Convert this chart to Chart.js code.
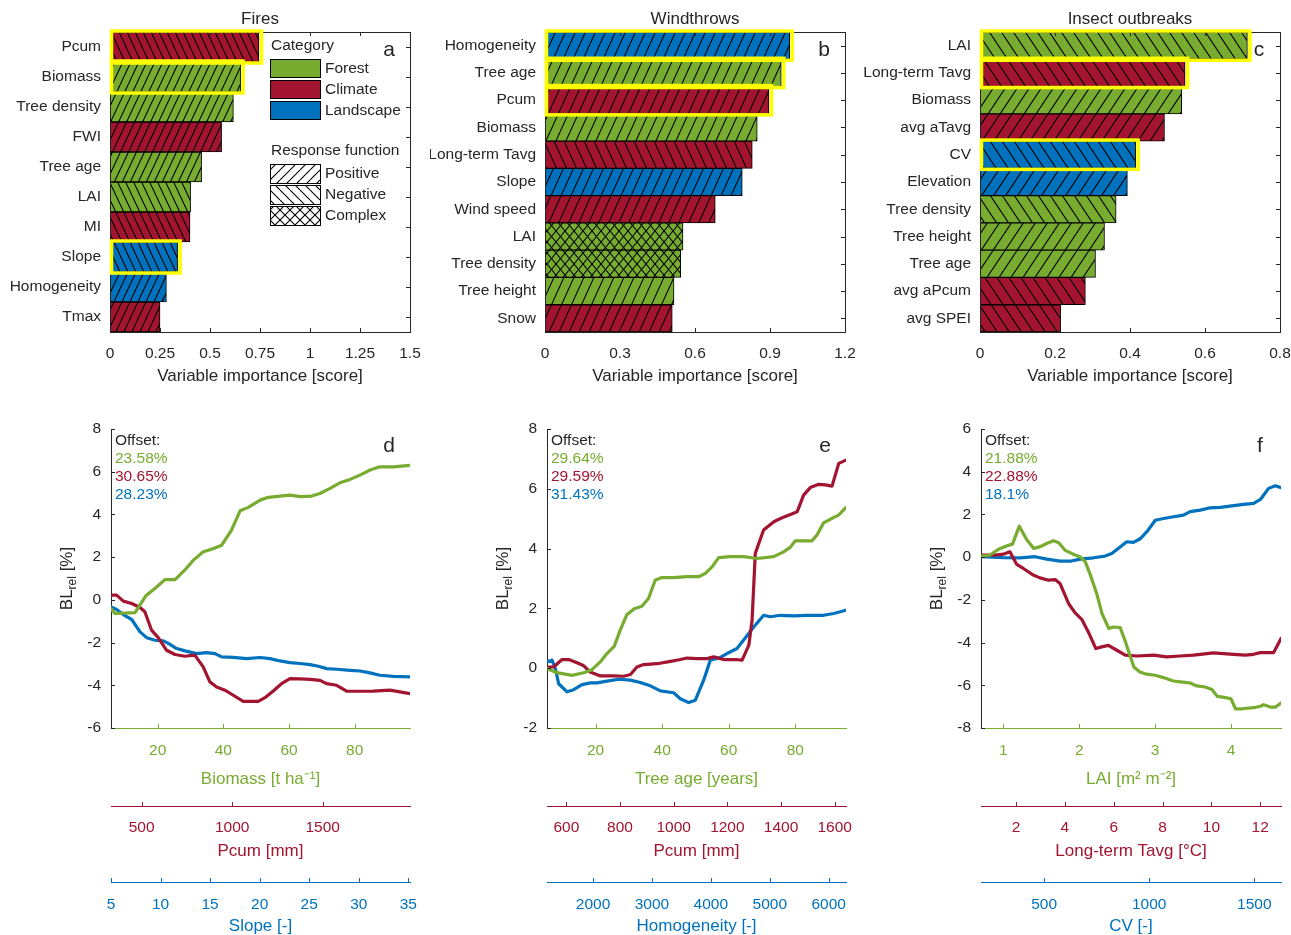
<!DOCTYPE html>
<html>
<head>
<meta charset="utf-8">
<title>Fires, windthrows and insect outbreaks</title>
<script src="https://cdn.jsdelivr.net/npm/chart.js@4.4.0/dist/chart.umd.min.js"></script>
<style>
  html, body { margin: 0; background: #fff; }
  #fig { position: relative; width: 1291px; height: 935px; overflow: hidden; background: #fff; }
  #fig canvas { position: absolute; }
</style>
</head>
<body>
<div id="fig">
  <canvas id="pa" width="430" height="390" style="left:0;top:0"></canvas>
  <canvas id="pb" width="430" height="390" style="left:430px;top:0"></canvas>
  <canvas id="pc" width="431" height="390" style="left:860px;top:0"></canvas>
  <canvas id="pd" width="430" height="540" style="left:0;top:400px"></canvas>
  <canvas id="pe" width="430" height="540" style="left:430px;top:400px"></canvas>
  <canvas id="pf" width="431" height="540" style="left:860px;top:400px"></canvas>
</div>
<script>
const INK = '#262626';
const GREEN = '#77AC30';
const RED = '#A2142F';
const BLUE = '#0072BD';
const FONT = "'Liberation Sans', Arial, Helvetica, sans-serif";
const TICK_SIZE = 15.5;
const TITLE_SIZE = 17;

// ---- variable importance (top row) ----
// groups: F forest, C climate, L landscape; shapes: p positive, n negative, x complex
const fireVars = ['Pcum', 'Biomass', 'Tree density', 'FWI', 'Tree age', 'LAI', 'MI', 'Slope', 'Homogeneity', 'Tmax'];
const fireScores = [0.745, 0.653, 0.617, 0.558, 0.458, 0.403, 0.40, 0.338, 0.282, 0.25];
const fireGroups = ['C', 'F', 'F', 'C', 'F', 'F', 'C', 'L', 'L', 'C'];
const fireShapes = ['n', 'p', 'p', 'p', 'p', 'n', 'n', 'n', 'p', 'p'];
const fireSelected = [1, 1, 0, 0, 0, 0, 0, 1, 0, 0];

const windVars = ['Homogeneity', 'Tree age', 'Pcum', 'Biomass', 'Long-term Tavg', 'Slope', 'Wind speed', 'LAI', 'Tree density', 'Tree height', 'Snow'];
const windScores = [0.979, 0.945, 0.896, 0.849, 0.829, 0.789, 0.681, 0.552, 0.543, 0.516, 0.509];
const windGroups = ['L', 'F', 'C', 'F', 'C', 'L', 'C', 'F', 'F', 'F', 'C'];
const windShapes = ['p', 'p', 'p', 'p', 'n', 'p', 'p', 'x', 'x', 'p', 'p'];
const windSelected = [1, 1, 1, 0, 0, 0, 0, 0, 0, 0, 0];

const insectVars = ['LAI', 'Long-term Tavg', 'Biomass', 'avg aTavg', 'CV', 'Elevation', 'Tree density', 'Tree height', 'Tree age', 'avg aPcum', 'avg SPEI'];
const insectScores = [0.713, 0.547, 0.538, 0.492, 0.415, 0.393, 0.363, 0.332, 0.308, 0.281, 0.215];
const insectGroups = ['F', 'C', 'F', 'C', 'L', 'L', 'F', 'F', 'F', 'C', 'C'];
const insectShapes = ['n', 'n', 'p', 'p', 'n', 'p', 'n', 'p', 'p', 'n', 'n'];
const insectSelected = [1, 1, 0, 0, 1, 0, 0, 0, 0, 0, 0];

const legendGroups = ['Forest', 'Climate', 'Landscape'];
const legendShapes = ['Positive', 'Negative', 'Complex'];

// ---- response functions (bottom row) ----
const fireOffsets = ['23.58%', '30.65%', '28.23%'];
const fireBiomassTicks = [20, 40, 60, 80];
const fireBiomassX = [5.8, 7, 13.1, 16.4, 19.7, 22.2, 25.3, 28.3, 30.9, 33.9, 37, 39.5, 42.5, 45.1, 47.6, 51.2, 53.7, 57.3, 60.3, 63.4, 66.9, 69.4, 72.5, 75.5, 78.6, 81.6, 84.7, 87.7, 91.8, 96.8];
const fireBiomassY = [-0.41, -0.64, -0.6, 0.19, 0.6, 0.95, 0.95, 1.4, 1.86, 2.25, 2.4, 2.56, 3.27, 4.17, 4.33, 4.67, 4.8, 4.86, 4.9, 4.83, 4.86, 4.98, 5.22, 5.48, 5.64, 5.84, 6.08, 6.23, 6.23, 6.3];
const firePcumTicks = [500, 1000, 1500];
const firePcumX = [331, 362, 399, 445, 491, 518, 555, 592, 638, 684, 739, 794, 840, 877, 914, 960, 997, 1061, 1144, 1181, 1227, 1273, 1319, 1374, 1430, 1485, 1521, 1577, 1632, 1706, 1779, 1871, 1982];
const firePcumY = [0.22, 0.22, -0.06, -0.17, -0.36, -0.56, -1.42, -1.77, -2.36, -2.56, -2.64, -2.59, -3.14, -3.84, -4.08, -4.23, -4.42, -4.75, -4.75, -4.58, -4.27, -3.92, -3.69, -3.7, -3.72, -3.77, -3.92, -4.0, -4.27, -4.28, -4.27, -4.23, -4.39];
const fireSlopeTicks = [5, 10, 15, 20, 25, 30, 35];
const fireSlopeX = [5, 5.57, 6.24, 7.09, 7.93, 8.6, 9.44, 10.28, 10.95, 11.63, 12.47, 13.64, 14.65, 15.49, 16.17, 17.34, 18.69, 20.04, 21.04, 22.05, 23.06, 24.07, 25.08, 25.92, 26.76, 27.77, 29.12, 30.13, 31.13, 32.14, 33.49, 35.17];
const fireSlopeY = [-0.33, -0.45, -0.69, -0.92, -1.5, -1.77, -1.89, -1.92, -2.08, -2.28, -2.39, -2.52, -2.47, -2.52, -2.67, -2.69, -2.75, -2.7, -2.75, -2.86, -2.94, -2.98, -3.03, -3.11, -3.22, -3.25, -3.3, -3.33, -3.42, -3.53, -3.58, -3.61];

const windOffsets = ['29.64%', '29.59%', '31.43%'];
const windAgeTicks = [20, 40, 60, 80];
const windAgeX = [5.4, 8.4, 12.9, 16.4, 18.9, 21.4, 23.4, 25.6, 27.4, 29.4, 31.6, 33.9, 35.9, 37.9, 39.9, 43.4, 47.5, 51, 53, 55, 57, 60.4, 64.5, 68.5, 73.5, 76.5, 78.5, 80, 83.5, 85, 86.5, 88.5, 90.5, 93, 95.2];
const windAgeY = [-0.01, -0.15, -0.24, -0.15, -0.05, 0.21, 0.49, 0.73, 1.27, 1.79, 1.99, 2.07, 2.33, 2.94, 3.03, 3.03, 3.06, 3.06, 3.17, 3.39, 3.7, 3.73, 3.73, 3.67, 3.73, 3.89, 4.04, 4.26, 4.26, 4.26, 4.45, 4.86, 4.98, 5.12, 5.37];
const windPcumTicks = [600, 800, 1000, 1200, 1400, 1600];
const windPcumX = [528, 553, 584, 609, 640, 665, 689, 727, 776, 814, 839, 863, 888, 938, 988, 1025, 1050, 1087, 1124, 1149, 1186, 1230, 1255, 1280, 1292, 1304, 1317, 1335, 1373, 1404, 1435, 1460, 1484, 1509, 1540, 1565, 1590, 1615, 1642];
const windPcumY = [0.04, 0.04, 0.29, 0.29, 0.18, 0.08, -0.13, -0.26, -0.26, -0.27, -0.21, 0.04, 0.12, 0.15, 0.23, 0.29, 0.34, 0.32, 0.32, 0.38, 0.29, 0.29, 0.27, 0.77, 1.6, 3.84, 4.17, 4.62, 4.9, 5.03, 5.14, 5.23, 5.79, 6.04, 6.15, 6.13, 6.09, 6.85, 6.96];
const windHomogTicks = [2000, 3000, 4000, 5000, 6000];
const windHomogX = [1219, 1304, 1361, 1417, 1559, 1672, 1813, 1955, 2068, 2238, 2436, 2634, 2803, 2973, 3143, 3369, 3482, 3624, 3737, 3878, 3991, 4161, 4274, 4444, 4557, 4727, 4897, 5010, 5180, 5406, 5632, 5915, 6085, 6294];
const windHomogY = [0.21, 0.27, -0.01, -0.52, -0.79, -0.72, -0.55, -0.49, -0.49, -0.43, -0.37, -0.4, -0.48, -0.59, -0.76, -0.82, -1.02, -1.15, -1.07, -0.4, 0.27, 0.36, 0.49, 0.66, 0.94, 1.38, 1.77, 1.72, 1.77, 1.75, 1.77, 1.77, 1.83, 1.94];

const insectOffsets = ['21.88%', '22.88%', '18.1%'];
const insectLaiTicks = [1, 2, 3, 4];
const insectLaiX = [0.705, 0.82, 0.93, 1.04, 1.12, 1.21, 1.31, 1.4, 1.48, 1.57, 1.66, 1.73, 1.81, 1.92, 2.01, 2.08, 2.14, 2.23, 2.3, 2.39, 2.45, 2.54, 2.61, 2.72, 2.8, 2.89, 3.0, 3.11, 3.24, 3.33, 3.46, 3.55, 3.66, 3.75, 3.82, 3.93, 4.0, 4.06, 4.15, 4.3, 4.39, 4.43, 4.52, 4.59, 4.66];
const insectLaiY = [0.05, 0.09, 0.36, 0.52, 0.61, 1.45, 0.8, 0.41, 0.48, 0.64, 0.77, 0.67, 0.33, 0.14, 0.02, -0.22, -0.77, -1.7, -2.64, -3.34, -3.27, -3.3, -3.97, -5.14, -5.38, -5.48, -5.53, -5.64, -5.8, -5.84, -5.89, -6.03, -6.08, -6.2, -6.52, -6.58, -6.63, -7.1, -7.1, -7.05, -6.98, -6.91, -7.02, -7.02, -6.83];
const insectTavgTicks = [2, 4, 6, 8, 10, 12];
const insectTavgX = [0.566, 1.07, 1.48, 1.75, 2.03, 2.3, 2.71, 2.98, 3.33, 3.6, 3.8, 4.15, 4.42, 4.69, 4.96, 5.27, 5.51, 5.78, 6.13, 6.47, 6.95, 7.63, 8.17, 8.72, 9.27, 10.09, 10.91, 11.38, 11.73, 12.0, 12.55, 12.85];
const insectTavgY = [0.09, 0.09, 0.14, 0.25, -0.34, -0.53, -0.84, -0.97, -1.08, -1.05, -1.23, -2.17, -2.61, -2.91, -3.5, -4.28, -4.2, -4.13, -4.36, -4.59, -4.63, -4.59, -4.67, -4.63, -4.59, -4.48, -4.55, -4.59, -4.55, -4.47, -4.47, -3.81];
const insectCvTicks = [500, 1000, 1500];
const insectCvX = [200, 306, 386, 457, 513, 576, 624, 671, 735, 790, 822, 862, 893, 925, 957, 989, 1029, 1068, 1116, 1163, 1195, 1243, 1290, 1338, 1402, 1449, 1497, 1529, 1568, 1600, 1627];
const insectCvY = [0.02, -0.02, -0.03, 0.02, -0.09, -0.19, -0.19, -0.09, -0.03, 0.05, 0.17, 0.48, 0.72, 0.69, 0.86, 1.19, 1.73, 1.81, 1.89, 1.97, 2.13, 2.2, 2.31, 2.33, 2.41, 2.47, 2.52, 2.7, 3.22, 3.34, 3.25];

const GROUP_COLORS = { F: GREEN, C: RED, L: BLUE };
const fmt = v => String(+Number(v).toFixed(3));

function hatchPattern(ctx, fill, shape, s, h) {
  const tile = document.createElement('canvas');
  tile.width = s;
  tile.height = h;
  const g = tile.getContext('2d');
  g.fillStyle = fill;
  g.fillRect(0, 0, s, h);
  g.strokeStyle = '#000';
  g.lineWidth = 1.1;
  const line = (x0, y0, x1, y1) => { g.beginPath(); g.moveTo(x0, y0); g.lineTo(x1, y1); g.stroke(); };
  for (const dx of [-s, 0, s]) {
    if (shape !== 'n') line(dx, h, dx + s, 0);
    if (shape !== 'p') line(dx, 0, dx + s, h);
  }
  return ctx.createPattern(tile, 'repeat');
}

function seg(ctx, x0, y0, x1, y1) {
  ctx.beginPath(); ctx.moveTo(x0, y0); ctx.lineTo(x1, y1); ctx.stroke();
}

// keep the plot box where it is: labels may hang over the canvas padding
function noLabelPadding(s) {
  s.paddingLeft = 0;
  s.paddingRight = 0;
  s.paddingTop = 0;
  s.paddingBottom = 0;
}

// box, inward ticks and yellow outlines of the selected bars
const importanceFrame = {
  id: 'importanceFrame',
  afterDatasetsDraw(chart, args, o) {
    const { ctx, chartArea: a, scales: { x, y } } = chart;
    ctx.save();
    ctx.strokeStyle = INK;
    ctx.lineWidth = 1;
    ctx.strokeRect(Math.round(a.left) + 0.5, Math.round(a.top) + 0.5, Math.round(a.width), Math.round(a.height));
    x.ticks.forEach((t, i) => {
      const px = Math.round(x.getPixelForTick(i)) + 0.5;
      seg(ctx, px, a.top, px, a.top + 4);
      seg(ctx, px, a.bottom, px, a.bottom - 4);
    });
    y.ticks.forEach((t, i) => {
      const py = Math.round(y.getPixelForTick(i)) + 0.5;
      seg(ctx, a.right, py, a.right - 4, py);
    });
    const meta = chart.getDatasetMeta(0);
    ctx.strokeStyle = '#FFFF00';
    ctx.lineWidth = 3.5;
    o.selected.forEach((on, i) => {
      if (!on) return;
      const b = meta.data[i].getProps(['x', 'y', 'base', 'height'], true);
      const top = b.y - b.height / 2;
      ctx.strokeRect(b.base + 1.5, top - 1, b.x - b.base + 1, b.height + 2);
    });
    ctx.restore();
  },
  afterDraw(chart, args, o) {
    const { ctx, chartArea: a } = chart;
    ctx.save();
    ctx.fillStyle = INK;
    ctx.textBaseline = 'middle';
    ctx.textAlign = 'center';
    ctx.font = `${TITLE_SIZE}px ${FONT}`;
    ctx.fillText(o.title, (a.left + a.right) / 2, a.top - 13);
    ctx.font = `21px ${FONT}`;
    ctx.fillText(o.letter, a.right - 21, a.top + 18);
    if (o.legend) {
      const lx = a.left + 160;
      ctx.textAlign = 'left';
      ctx.font = `${TICK_SIZE}px ${FONT}`;
      ctx.lineWidth = 1;
      ctx.strokeStyle = '#000';
      ctx.fillText('Category', lx + 1, a.top + 14);
      legendGroups.forEach((name, i) => {
        const ty = a.top + 27 + i * 21;
        ctx.fillStyle = [GREEN, RED, BLUE][i];
        ctx.fillRect(lx, ty, 50, 18);
        ctx.strokeRect(lx + 0.5, ty + 0.5, 50, 18);
        ctx.fillStyle = INK;
        ctx.fillText(name, lx + 55, ty + 10);
      });
      ctx.fillText('Response function', lx + 1, a.top + 119);
      legendShapes.forEach((name, i) => {
        const ty = a.top + 132 + i * 21;
        ctx.fillStyle = hatchPattern(ctx, '#fff', ['p', 'n', 'x'][i], 10, 10);
        ctx.fillRect(lx, ty, 50, 19);
        ctx.strokeRect(lx + 0.5, ty + 0.5, 50, 19);
        ctx.fillStyle = INK;
        ctx.fillText(name, lx + 55, ty + 10);
      });
    }
    ctx.restore();
  }
};

function drawImportance(id, cfg) {
  const canvas = document.getElementById(id);
  const ctx = canvas.getContext('2d');
  const fills = cfg.names.map((n, i) => {
    const hs = cfg.shapes[i] === 'x' ? cfg.cross : cfg.hatch;
    return hatchPattern(ctx, GROUP_COLORS[cfg.groups[i]], cfg.shapes[i], hs[0], hs[1]);
  });
  const font = { family: FONT, size: TICK_SIZE };
  const titleFont = { family: FONT, size: TITLE_SIZE };
  return new Chart(canvas, {
    type: 'bar',
    data: {
      labels: cfg.names,
      datasets: [{
        data: cfg.scores,
        backgroundColor: fills,
        borderColor: '#000',
        borderWidth: 1,
        borderSkipped: false,
        categoryPercentage: 1,
        barPercentage: 1
      }]
    },
    options: {
      indexAxis: 'y',
      responsive: false,
      animation: false,
      layout: { padding: { top: 32, right: cfg.padRight, left: 0, bottom: 0 } },
      plugins: {
        legend: { display: false },
        tooltip: { enabled: false },
        importanceFrame: { selected: cfg.selected, title: cfg.title, letter: cfg.letter, legend: cfg.legend }
      },
      scales: {
        x: {
          type: 'linear',
          min: 0,
          max: cfg.xMax,
          grid: { display: false, drawTicks: false },
          border: { display: false },
          ticks: { stepSize: cfg.xStep, color: INK, font, padding: 12, maxRotation: 0, autoSkip: false, callback: fmt },
          title: { display: true, text: 'Variable importance [score]', color: INK, font: titleFont, padding: { top: 0, bottom: 3 } },
          afterFit: s => { s.height = 58; noLabelPadding(s); }
        },
        y: {
          grid: { display: false, drawTicks: false },
          border: { display: false },
          ticks: { color: INK, font, padding: 9, autoSkip: false },
          afterFit: s => { s.width = cfg.yWidth; noLabelPadding(s); }
        }
      }
    },
    plugins: [importanceFrame]
  });
}

// inward ticks, y title, offsets and panel letter
const responseDecor = {
  id: 'responseDecor',
  afterDraw(chart, args, o) {
    const { ctx, chartArea: a } = chart;
    ctx.save();
    ctx.lineWidth = 1;
    ['xg', 'xr', 'xb'].forEach(sid => {
      const s = chart.scales[sid];
      ctx.strokeStyle = s.options.border.color;
      s.ticks.forEach((t, i) => {
        const px = Math.round(s.getPixelForTick(i)) + 0.5;
        seg(ctx, px, s.top + 1, px, s.top - 4);
      });
    });
    const y = chart.scales.y;
    ctx.strokeStyle = INK;
    y.ticks.forEach((t, i) => {
      const py = Math.round(y.getPixelForTick(i)) + 0.5;
      seg(ctx, a.left, py, a.left + 4, py);
    });

    // BL_rel [%]
    ctx.fillStyle = INK;
    ctx.textBaseline = 'alphabetic';
    ctx.textAlign = 'left';
    ctx.translate(a.left - 45, (a.top + a.bottom) / 2);
    ctx.rotate(-Math.PI / 2);
    ctx.font = `${TITLE_SIZE}px ${FONT}`;
    const w1 = ctx.measureText('BL').width;
    const w3 = ctx.measureText(' [%]').width;
    ctx.font = `12px ${FONT}`;
    const w2 = ctx.measureText('rel').width;
    const tx = -(w1 + w2 + w3) / 2;
    ctx.font = `${TITLE_SIZE}px ${FONT}`;
    ctx.fillText('BL', tx, 6);
    ctx.font = `12px ${FONT}`;
    ctx.fillText('rel', tx + w1, 10);
    ctx.font = `${TITLE_SIZE}px ${FONT}`;
    ctx.fillText(' [%]', tx + w1 + w2, 6);
    ctx.setTransform(1, 0, 0, 1, 0, 0);

    ctx.textBaseline = 'middle';
    ctx.font = `${TICK_SIZE}px ${FONT}`;
    ctx.fillText('Offset:', a.left + 4, a.top + 12);
    [GREEN, RED, BLUE].forEach((c, i) => {
      ctx.fillStyle = c;
      ctx.fillText(o.offsets[i], a.left + 4, a.top + 30 + i * 18);
    });
    ctx.fillStyle = INK;
    ctx.textAlign = 'center';
    ctx.font = `21px ${FONT}`;
    ctx.fillText(o.letter, a.right - 21, a.top + 17);
    ctx.restore();
  }
};

function xAxis(ax, color, weight, height, titlePad, tickPad) {
  const font = { family: FONT, size: TICK_SIZE };
  const titleFont = { family: FONT, size: TITLE_SIZE };
  return {
    type: 'linear',
    position: 'bottom',
    weight,
    min: ax.min,
    max: ax.max,
    grid: { display: false, drawTicks: false },
    border: { display: true, color, width: 1 },
    ticks: { color, font, padding: tickPad, maxRotation: 0, autoSkip: false, callback: fmt },
    afterBuildTicks: s => { s.ticks = ax.ticks.map(value => ({ value })); },
    title: { display: true, text: ax.title, color, font: titleFont, padding: { top: 0, bottom: titlePad } },
    afterFit: s => { s.height = height; noLabelPadding(s); }
  };
}

function drawResponse(id, cfg) {
  const canvas = document.getElementById(id);
  const pts = (xs, ys) => xs.map((x, i) => ({ x, y: ys[i] }));
  const line = (xs, ys, color, axisId) => ({
    data: pts(xs, ys),
    xAxisID: axisId,
    borderColor: color,
    borderWidth: 3.2,
    pointRadius: 0,
    tension: 0,
    borderJoinStyle: 'round',
    borderCapStyle: 'round',
    fill: false
  });
  const font = { family: FONT, size: TICK_SIZE };
  return new Chart(canvas, {
    type: 'line',
    data: {
      datasets: [
        line(cfg.g.xs, cfg.g.ys, GREEN, 'xg'),
        line(cfg.r.xs, cfg.r.ys, RED, 'xr'),
        line(cfg.b.xs, cfg.b.ys, BLUE, 'xb')
      ]
    },
    options: {
      responsive: false,
      animation: false,
      layout: { padding: { top: 29, right: cfg.padRight, left: 0, bottom: 0 } },
      plugins: {
        legend: { display: false },
        tooltip: { enabled: false },
        responseDecor: { offsets: cfg.offsets, letter: cfg.letter }
      },
      scales: {
        xg: xAxis(cfg.g, GREEN, 0, 78, 16, 13),
        xr: xAxis(cfg.r, RED, 1, 76, 20, 12),
        xb: xAxis(cfg.b, BLUE, 2, 58, 3, 13),
        y: {
          type: 'linear',
          position: 'left',
          min: cfg.yMin,
          max: cfg.yMax,
          grid: { display: false, drawTicks: false },
          border: { display: true, color: INK, width: 1 },
          ticks: { stepSize: 2, color: INK, font, padding: 10, callback: fmt },
          afterFit: s => { s.width = cfg.yWidth; noLabelPadding(s); }
        }
      }
    },
    plugins: [responseDecor]
  });
}

drawImportance('pa', {
  names: fireVars, scores: fireScores, groups: fireGroups, shapes: fireShapes, selected: fireSelected,
  title: 'Fires', letter: 'a', xMax: 1.5, xStep: 0.25, hatch: [8, 17], cross: [9, 11],
  yWidth: 110, padRight: 20, legend: true
});
drawImportance('pb', {
  names: windVars, scores: windScores, groups: windGroups, shapes: windShapes, selected: windSelected,
  title: 'Windthrows', letter: 'b', xMax: 1.2, xStep: 0.3, hatch: [10, 22], cross: [9, 11],
  yWidth: 115, padRight: 15, legend: false
});
drawImportance('pc', {
  names: insectVars, scores: insectScores, groups: insectGroups, shapes: insectShapes, selected: insectSelected,
  title: 'Insect outbreaks', letter: 'c', xMax: 0.8, xStep: 0.2, hatch: [12, 18], cross: [9, 11],
  yWidth: 120, padRight: 11, legend: false
});

drawResponse('pd', {
  letter: 'd', offsets: fireOffsets, yMin: -6, yMax: 8, yWidth: 111, padRight: 20,
  g: { xs: fireBiomassX, ys: fireBiomassY, ticks: fireBiomassTicks, min: 5.79, max: 96.85, title: 'Biomass [t ha\u207B\u00B9]' },
  r: { xs: firePcumX, ys: firePcumY, ticks: firePcumTicks, min: 331, max: 1982, title: 'Pcum [mm]' },
  b: { xs: fireSlopeX, ys: fireSlopeY, ticks: fireSlopeTicks, min: 5, max: 35.17, title: 'Slope [-]' }
});
drawResponse('pe', {
  letter: 'e', offsets: windOffsets, yMin: -2, yMax: 8, yWidth: 117, padRight: 14,
  g: { xs: windAgeX, ys: windAgeY, ticks: windAgeTicks, min: 5.4, max: 95.25, title: 'Tree age [years]' },
  r: { xs: windPcumX, ys: windPcumY, ticks: windPcumTicks, min: 528, max: 1642, title: 'Pcum [mm]' },
  b: { xs: windHomogX, ys: windHomogY, ticks: windHomogTicks, min: 1219, max: 6294, title: 'Homogeneity [-]' }
});
drawResponse('pf', {
  letter: 'f', offsets: insectOffsets, yMin: -8, yMax: 6, yWidth: 121, padRight: 10,
  g: { xs: insectLaiX, ys: insectLaiY, ticks: insectLaiTicks, min: 0.705, max: 4.66, title: 'LAI [m\u00B2 m\u207B\u00B2]' },
  r: { xs: insectTavgX, ys: insectTavgY, ticks: insectTavgTicks, min: 0.566, max: 12.85, title: 'Long-term Tavg [\u00B0C]' },
  b: { xs: insectCvX, ys: insectCvY, ticks: insectCvTicks, min: 200, max: 1627, title: 'CV [-]' }
});
</script>
</body>
</html>
